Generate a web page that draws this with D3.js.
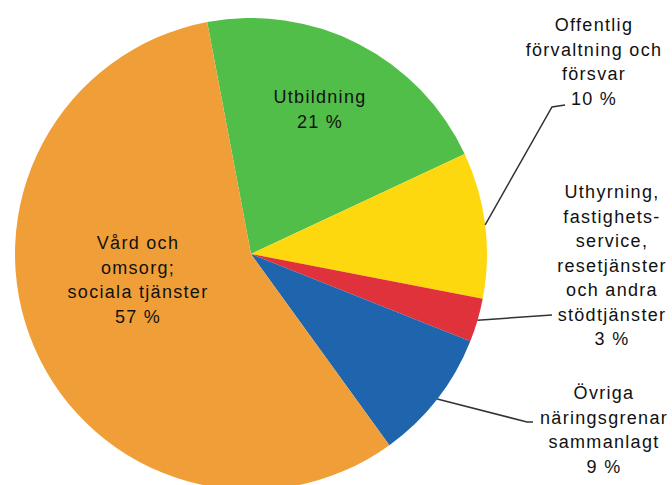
<!DOCTYPE html>
<html>
<head>
<meta charset="utf-8">
<script src="https://cdn.jsdelivr.net/npm/d3@7/dist/d3.min.js"></script>
<style>
  body { margin: 0; background: #fff; }
  svg text { font-family: "Liberation Sans", Arial, sans-serif; font-size: 18px; letter-spacing: 1.3px; fill: #111; }
</style>
</head>
<body>
<div id="chart"></div>
<script>
// Data
const categories = ["Utbildning", "Offentlig förvaltning och försvar", "Uthyrning, fastighetsservice, resetjänster och andra stödtjänster", "Övriga näringsgrenar sammanlagt", "Vård och omsorg; sociala tjänster"];
const shares = [21, 10, 3, 9, 57];
const labelLines = [
    ["Utbildning", "21 %"],
    ["Offentlig", "förvaltning och", "försvar", "10 %"],
    ["Uthyrning,", "fastighets-", "service,", "resetjänster", "och andra", "stödtjänster", "3 %"],
    ["Övriga", "näringsgrenar", "sammanlagt", "9 %"],
    ["Vård och", "omsorg;", "sociala tjänster", "57 %"]
];
const colors = ["#52be4a", "#fdd80f", "#e0323a", "#1e65ae", "#f09f38"];

// Layout
const width = 672, height = 485;
const cx = 251, cy = 254, radius = 236;
const lineH = 24.5;
// label placement: text centre x, first baseline y, leader elbow points (null = inside label)
const labelLayout = [
    { x: 320, y: 103, leader: null },
    { x: 594, y: 31, leader: [[552, 107], [565, 105]] },
    { x: 612, y: 198, leader: [[552, 315]] },
    { x: 604, y: 399, leader: [[527, 422], [533, 422]] },
    { x: 138, y: 249, leader: null }
];

const svg = d3.select("#chart").append("svg").attr("width", width).attr("height", height);
const g = svg.append("g").attr("transform", `translate(${cx},${cy})`);

const start = -10.7 * Math.PI / 180;
const pie = d3.pie().sort(null).startAngle(start).endAngle(start + 2 * Math.PI);
const arcs = pie(shares);
const arc = d3.arc().innerRadius(0).outerRadius(radius);

g.selectAll("path.slice").data(arcs).enter().append("path")
    .attr("class", "slice")
    .attr("d", arc)
    .attr("fill", (d, i) => colors[i]);

// Leader lines
arcs.forEach((d, i) => {
    const lay = labelLayout[i];
    if (!lay.leader) return;
    const mid = (d.startAngle + d.endAngle) / 2;
    const p0 = [cx + radius * Math.sin(mid), cy - radius * Math.cos(mid)];
    const pts = [p0].concat(lay.leader);
    svg.append("path")
        .attr("d", d3.line()(pts))
        .attr("fill", "none")
        .attr("stroke", "#333")
        .attr("stroke-width", 1.5);
});

// Labels
labelLayout.forEach((lay, i) => {
    const t = svg.append("text").attr("text-anchor", "middle");
    labelLines[i].forEach((s, j) => {
        t.append("tspan").attr("x", lay.x).attr("y", lay.y + j * lineH).text(s);
    });
});
</script>
</body>
</html>
